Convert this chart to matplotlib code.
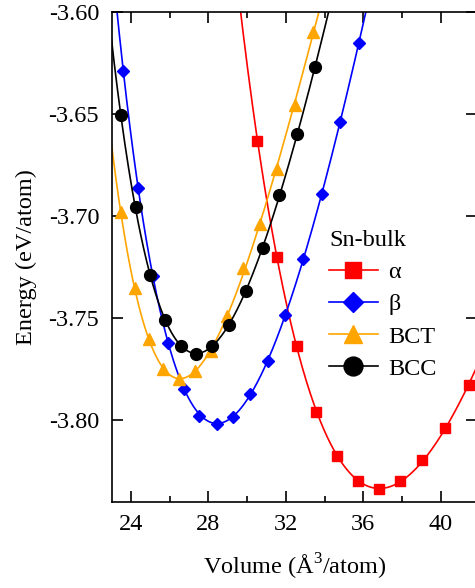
import numpy as np
import matplotlib.pyplot as plt
from matplotlib.ticker import MultipleLocator, FormatStrFormatter

plt.rcParams["font.family"] = ["Liberation Serif", "DejaVu Serif"]
plt.rcParams["mathtext.fontset"] = "custom"
plt.rcParams["mathtext.rm"] = "Liberation Serif"
plt.rcParams["axes.unicode_minus"] = False

# volume (A^3/atom) and total energy (eV/atom) per phase
v_alpha = [30.53, 31.56, 32.56, 33.57, 34.66, 35.74, 36.83, 37.90, 39.05, 40.24, 41.45]
e_alpha = [-3.6634, -3.7201, -3.7637, -3.7961, -3.8176, -3.8301, -3.8338, -3.8300, -3.8196, -3.8041, -3.7828]

v_beta = [23.60, 24.36, 25.15, 25.93, 26.75, 27.53, 28.43, 29.28, 30.15, 31.06, 31.96, 32.90, 33.85, 34.80, 35.78]
e_beta = [-3.6291, -3.6863, -3.7292, -3.7624, -3.7850, -3.7979, -3.8019, -3.7984, -3.7874, -3.7709, -3.7485,
          -3.7212, -3.6892, -3.6541, -3.6150]

v_bct = [23.47, 24.18, 24.92, 25.67, 26.47, 27.30, 28.13, 28.94, 29.80, 30.68, 31.56, 32.47, 33.38]
e_bct = [-3.6979, -3.7354, -3.7605, -3.7748, -3.7800, -3.7761, -3.7659, -3.7488, -3.7256, -3.7037, -3.6769,
         -3.6456, -3.6100]

v_bcc = [23.47, 24.23, 24.98, 25.78, 26.59, 27.36, 28.20, 29.06, 29.94, 30.80, 31.66, 32.60, 33.51]
e_bcc = [-3.6506, -3.6958, -3.7291, -3.7510, -3.7635, -3.7675, -3.7635, -3.7534, -3.7365, -3.7157, -3.6895,
         -3.6598, -3.6268]

phases = [
    (v_alpha, e_alpha, "s", "#ff0000", "\u03b1", 7.5),
    (v_beta, e_beta, "D", "#0000ff", "\u03b2", 6.5),
    (v_bct, e_bct, "^", "#ffa500", "BCT", 8.5),
    (v_bcc, e_bcc, "o", "#000000", "BCC", 8.5),
]


def bm_fit(v, e):
    # third-order Birch-Murnaghan: cubic polynomial in V^(-2/3)
    v = np.asarray(v)
    coef = np.polyfit(v ** (-2.0 / 3.0), e, 3)
    vv = np.linspace(v.min() - 2.5, v.max() + 2.5, 400)
    return vv, np.polyval(coef, vv ** (-2.0 / 3.0))


fig = plt.figure(figsize=(4.75, 5.88), dpi=100)
ax = fig.add_axes([111.7 / 475, 86.3 / 588, (477 - 111.7) / 475, 489.7 / 588])

for v, e, mk, col, lab, ms in phases:
    vv, ee = bm_fit(v, e)
    ax.plot(vv, ee, "-", color=col, lw=1.2)
    ax.plot(v, e, mk, color=col, ms=ms, mec=col, ls="none")
    # legend proxy with line + marker
    ax.plot([], [], "-", marker=mk, color=col, lw=1.2, ms=ms * 1.6, label=lab)

ax.set_xlim(23, 23 + (477 - 111.7) / 19.35)
ax.set_ylim(-3.84, -3.60)
ax.xaxis.set_major_locator(MultipleLocator(4))
ax.xaxis.set_minor_locator(MultipleLocator(2))
ax.yaxis.set_major_locator(MultipleLocator(0.05))
ax.yaxis.set_major_formatter(FormatStrFormatter("%.2f"))
ax.tick_params(which="both", direction="in", top=True, right=True, width=1.2, labelsize=17.5)
ax.tick_params(which="major", length=8, pad=9)
ax.tick_params(which="minor", length=4)
for s in ax.spines.values():
    s.set_linewidth(1.2)

ax.set_xlabel("Volume (\u00c5$^3$/atom)", fontsize=17.5, labelpad=12)
ax.set_ylabel("Energy (eV/atom)", fontsize=17.5, labelpad=8)

ax.legend(loc="upper left", bbox_to_anchor=(0.595, 0.555), frameon=False, title="Sn-bulk",
          fontsize=17.5, title_fontsize=17.5, alignment="left", handlelength=2.0,
          handletextpad=0.45, labelspacing=0.42, borderpad=0, borderaxespad=0)

fig.savefig("out.png", dpi=100)
